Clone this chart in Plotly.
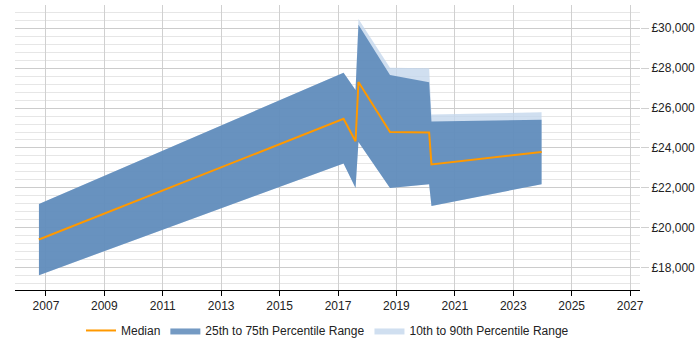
import plotly.graph_objects as go

years = [2006.76, 2017.19, 2017.6, 2017.7, 2018.78, 2020.12, 2020.2, 2023.97]
median = [19420, 25460, 24340, 27300, 24800, 24770, 23180, 23800]
p25 = [17640, 23230, 22000, 24300, 22000, 22190, 21100, 22190]
p75 = [21200, 27770, 26900, 30160, 27650, 27290, 25330, 25410]
p10 = [17640, 23230, 22000, 24300, 22000, 22190, 21100, 22190]
p90 = [21200, 27770, 26900, 30450, 28020, 27990, 25670, 25790]

light = "rgba(196,215,236,0.8)"
dark = "rgba(70,120,175,0.75)"

fig = go.Figure()
fig.add_trace(go.Scatter(x=years, y=median, mode="lines", line=dict(width=2, color="#ff9900"),
                         name="Median"))
fig.add_trace(go.Scatter(x=years, y=p10, mode="lines", line=dict(width=0, color=light),
                         showlegend=False, hoverinfo="skip"))
fig.add_trace(go.Scatter(x=years, y=p90, mode="lines", line=dict(width=0, color=light),
                         fill="tonexty", fillcolor=light, name="10th to 90th Percentile Range"))
fig.add_trace(go.Scatter(x=years, y=p25, mode="lines", line=dict(width=0, color=dark),
                         showlegend=False, hoverinfo="skip"))
fig.add_trace(go.Scatter(x=years, y=p75, mode="lines", line=dict(width=0, color=dark),
                         fill="tonexty", fillcolor=dark, name="25th to 75th Percentile Range"))
# redraw median on top
fig.add_trace(go.Scatter(x=years, y=median, mode="lines", line=dict(width=2, color="#ff9900"),
                         showlegend=False, hoverinfo="skip"))

fig.data[0].legendrank = 1
fig.data[4].legendrank = 2
fig.data[2].legendrank = 3

fig.update_layout(
    width=700, height=350,
    margin=dict(l=15, r=57, t=5, b=57),
    paper_bgcolor="white", plot_bgcolor="white",
    font=dict(family="Liberation Sans, Arial", size=12, color="#222"),
    legend=dict(orientation="h", x=0.5, xanchor="center", y=-0.142, yanchor="middle",
                traceorder="normal", font=dict(size=12, color="#222"), itemwidth=30),
    xaxis=dict(range=[2005.94, 2027.34], tickmode="linear", tick0=2007, dtick=2,
               showgrid=True, gridcolor="#d0d0d0", gridwidth=1,
               showline=True, linecolor="#000", linewidth=1,
               ticks="outside", ticklen=5, tickcolor="#000", zeroline=False),
    yaxis=dict(range=[16896, 31153], side="right", tickmode="linear", tick0=18000, dtick=2000,
               tickprefix="£", tickformat=",d",
               showgrid=True, gridcolor="#cccccc", gridwidth=1,
               minor=dict(dtick=400, tick0=18000, showgrid=True, gridcolor="#e6e6e6", gridwidth=1),
               ticks="outside", ticklen=8, tickcolor="#d0d0d0", zeroline=False, showline=False),
)

fig.write_html("out.html")
